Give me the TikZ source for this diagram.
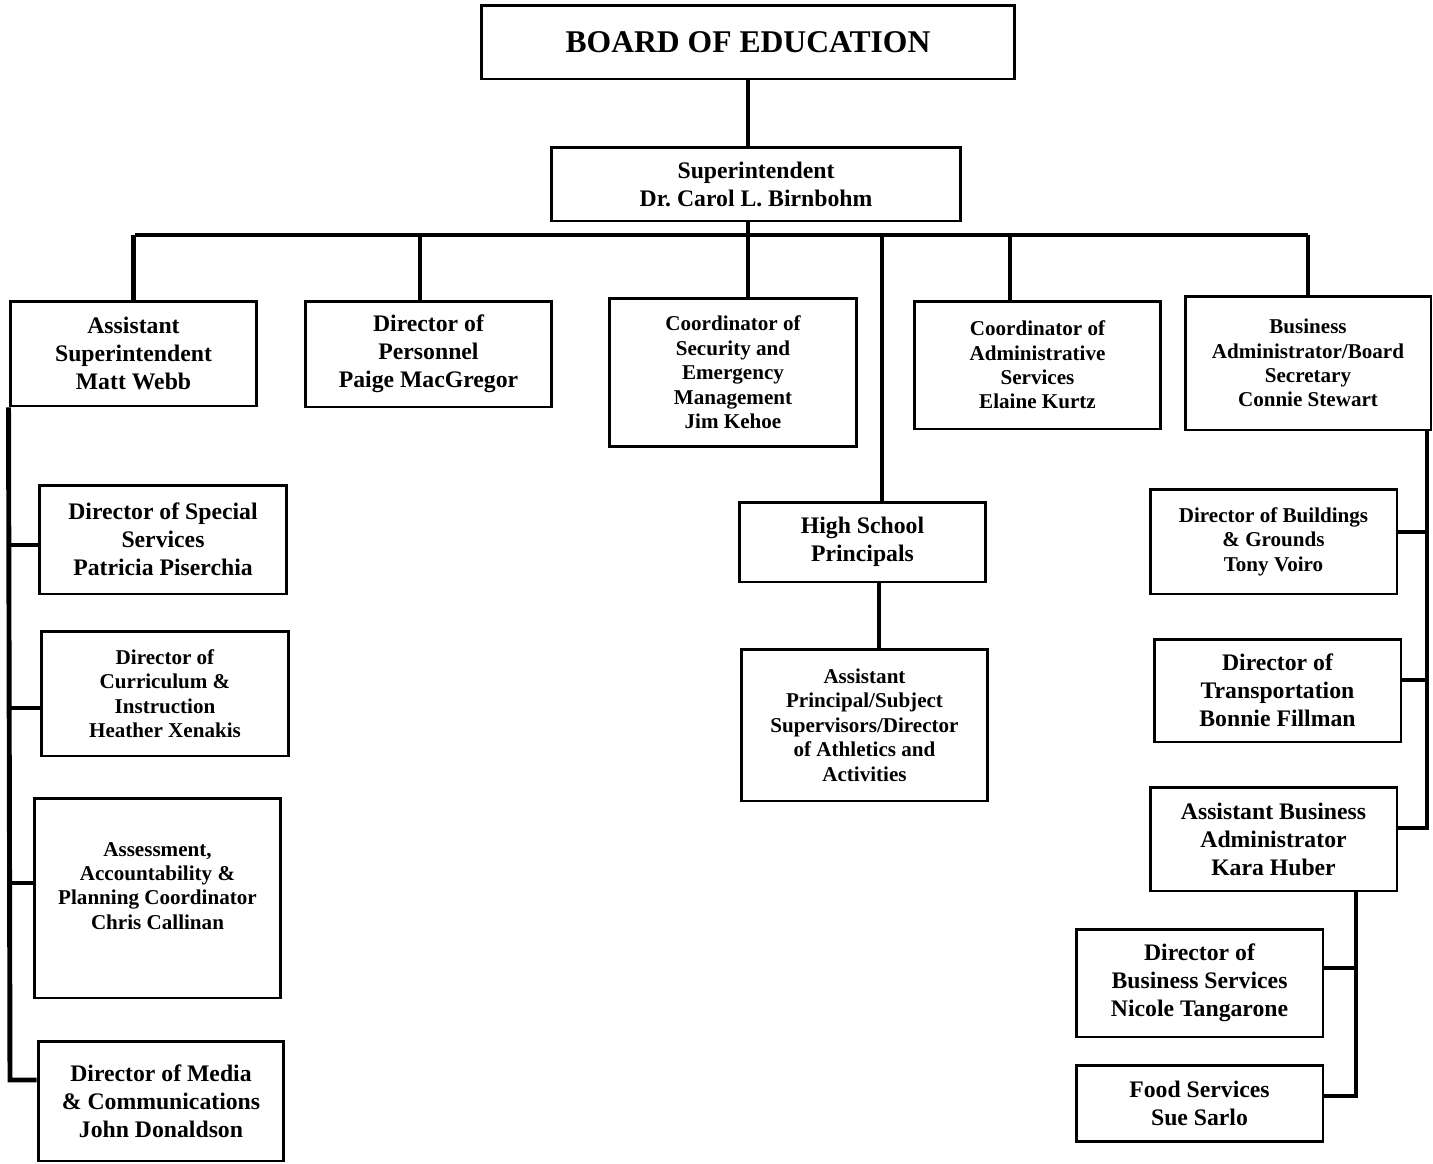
\documentclass[tikz,border=0pt]{standalone}
\usepackage{fontspec}
\setmainfont{Liberation Serif}
\usetikzlibrary{calc}

\tikzset{
  box/.style={draw, line width=1.7pt, align=center, inner sep=0pt},
  big/.style={font=\fontsize{13.5}{15.9}\selectfont\bfseries},
  small/.style={font=\fontsize{12}{13.9}\selectfont\bfseries},
  link/.style={line width=2.8pt}
}

\begin{document}
\begin{tikzpicture}[x=0.02cm, y=-0.02cm]
\useasboundingbox (0,0) rectangle (1433,1163);

% top
\node[box, minimum width=10.68cm, minimum height=1.48cm, font=\fontsize{18}{21}\selectfont\bfseries] (board) at (748,42) {BOARD OF EDUCATION};
\node[box, big, minimum width=8.2cm, minimum height=1.48cm] (sup) at (756,184) {Superintendent\\Dr.\ Carol L. Birnbohm};

% second row
\node[box, big, minimum width=4.94cm, minimum height=2.1cm] (asup) at (133.5,353.5) {Assistant\\Superintendent\\Matt Webb};
\node[box, big, minimum width=4.94cm, minimum height=2.12cm] (pers) at (428.5,354) {Director of\\Personnel\\Paige MacGregor};
\node[box, small, minimum width=4.96cm, minimum height=2.98cm] (secu) at (733,372.5) {Coordinator of\\Security and\\Emergency\\Management\\Jim Kehoe};
\node[box, small, minimum width=4.94cm, minimum height=2.56cm] (admin) at (1037.5,365) {Coordinator of\\Administrative\\Services\\Elaine Kurtz};
\node[box, small, minimum width=4.92cm, minimum height=2.68cm] (busi) at (1308,363) {Business\\Administrator/Board\\Secretary\\Connie Stewart};

% left column
\node[box, big, minimum width=4.96cm, minimum height=2.18cm] (spec) at (163,539.5) {Director of Special\\Services\\Patricia Piserchia};
\node[box, small, minimum width=4.96cm, minimum height=2.5cm] (curr) at (165,693.5) {Director of\\Curriculum \&\\Instruction\\Heather Xenakis};
\node[box, small, minimum width=4.94cm, minimum height=4cm] (assess) at (157.5,898) {Assessment,\\Accountability \&\\Planning Coordinator\\Chris Callinan\\ \mbox{}};
\node[box, big, minimum width=4.92cm, minimum height=2.4cm] (media) at (161,1101) {Director of Media\\\& Communications\\John Donaldson};

% middle column
\node[box, big, minimum width=4.94cm, minimum height=1.6cm] (hsp) at (862.5,542) {High School\\Principals};
\node[box, small, minimum width=4.94cm, minimum height=3.04cm] (apsup) at (864.5,725) {Assistant\\Principal/Subject\\Supervisors/Director\\of Athletics and\\Activities};

% right column
\node[box, small, minimum width=4.94cm, minimum height=2.1cm] (bldg) at (1273.5,541.5) {Director of Buildings\\\& Grounds\\Tony Voiro};
\node[box, big, minimum width=4.94cm, minimum height=2.06cm] (trans) at (1277.5,690.5) {Director of\\Transportation\\Bonnie Fillman};
\node[box, big, minimum width=4.94cm, minimum height=2.08cm] (abus) at (1273.5,839) {Assistant Business\\Administrator\\Kara Huber};
\node[box, big, minimum width=4.94cm, minimum height=2.16cm] (bserv) at (1199.5,983) {Director of\\Business Services\\Nicole Tangarone};
\node[box, big, minimum width=4.94cm, minimum height=1.52cm] (food) at (1199.5,1103) {Food Services\\Sue Sarlo};

% links
\coordinate (busL) at (135,235);
\coordinate (busR) at (1308,235);
\coordinate (lspine) at (10,1080);
\coordinate (rspine) at (1427,828);
\coordinate (bspine) at (1356,1096);

\draw[link] (board.south) -- (board.south |- sup.north);
\draw[link] (board.south |- sup.south) -- (board.south |- secu.north);
\draw[link] (busL) -- (busR);
\draw[link] (asup.north |- busL) -- (asup.north);
\draw[link] ([xshift=-1.7mm]pers.north |- busL) -- ([xshift=-1.7mm]pers.north);
\draw[link] ([xshift=-5.5mm]admin.north |- busL) -- ([xshift=-5.5mm]admin.north);
\draw[link] (busR) -- (busi.north);
\draw[link] ([xshift=3.9mm]hsp.north |- busL) -- ([xshift=3.9mm]hsp.north);
\draw[link] ([xshift=3.3mm]hsp.south) -- ([xshift=3.3mm]hsp.south |- apsup.north);

\draw[link] (asup.south west) -- (lspine) -- (lspine -| media.west);
\draw[link] ([yshift=-1.1mm]spec.west) -- ([yshift=-1.1mm]spec.west -| lspine);
\draw[link] ([yshift=-2.9mm]curr.west) -- ([yshift=-2.9mm]curr.west -| lspine);
\draw[link] ([yshift=3mm]assess.west) -- ([yshift=3mm]assess.west -| lspine);

\draw[link] (rspine |- busi.south) -- (rspine) -- (rspine -| abus.east);
\draw[link] ([yshift=1.9mm]bldg.east) -- ([yshift=1.9mm]bldg.east -| rspine);
\draw[link] ([yshift=2.1mm]trans.east) -- ([yshift=2.1mm]trans.east -| rspine);

\draw[link] (bspine |- abus.south) -- (bspine) -- (bspine -| food.east);
\draw[link] ([yshift=3mm]bserv.east) -- ([yshift=3mm]bserv.east -| bspine);
\end{tikzpicture}
\end{document}
